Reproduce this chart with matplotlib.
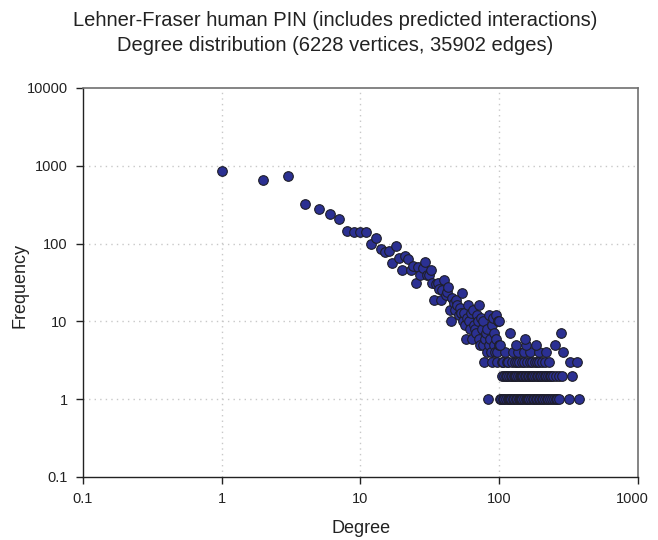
import matplotlib
matplotlib.use("Agg")
import matplotlib.pyplot as plt
import matplotlib.transforms as mtransforms
from matplotlib.ticker import FixedLocator, FixedFormatter, NullLocator

plt.rcParams['font.family'] = ['Liberation Sans', 'DejaVu Sans']

# degree -> number of vertices with that degree
low_degree = list(range(1, 101))
low_freq = [850, 655, 730, 325, 280, 240, 205, 147, 141, 140,
            140, 100, 118, 85, 79, 81, 56, 92, 65, 46,
            69, 63, 46, 52, 31, 50, 39, 48, 58, 40,
            39, 46, 31, 19, 30, 31, 26, 19, 25, 34,
            22, 24, 28, 14, 10, 20, 17, 14, 19, 16,
            12, 15, 13, 23, 10, 13, 9, 6, 11, 16,
            10, 8, 13, 6, 14, 9, 8, 7, 12, 10,
            16, 6, 5, 11, 8, 10, 5, 3, 6, 7,
            8, 4, 1, 5, 12, 6, 4, 9, 3, 11,
            5, 7, 4, 6, 12, 3, 4, 10, 5, 10]

# sparse tail: degrees above 100 grouped by their (small) frequency
deg_f1 = [101, 103, 106, 109, 112, 115, 117, 119, 122, 125, 128, 131, 134, 138,
          141, 144, 147, 151, 155, 158, 162, 165, 170, 174, 178, 183, 188, 192,
          197, 203, 208, 214, 220, 226, 233, 240, 247, 255, 262, 270, 320, 378]
deg_f2 = [105, 108, 111, 114, 118, 121, 124, 127, 130, 133, 136, 140, 143, 146,
          149, 154, 157, 160, 164, 168, 172, 176, 181, 186, 190, 196, 201, 206,
          212, 218, 224, 231, 238, 245, 258, 268, 281, 336]
deg_f3 = [104, 107, 113, 116, 123, 129, 135, 139, 145, 152, 159, 166, 173, 180,
          187, 195, 204, 213, 227, 321, 361]
deg_f4 = [110, 126, 137, 150, 167, 194, 217, 289]
deg_f5 = [102, 132, 156, 185, 252]
deg_f6 = [153]
deg_f7 = [120, 277]

degree = list(low_degree)
freq = list(low_freq)
for f, degs in [(1, deg_f1), (2, deg_f2), (3, deg_f3), (4, deg_f4),
                (5, deg_f5), (6, deg_f6), (7, deg_f7)]:
    degree += degs
    freq += [f] * len(degs)

x_ticks = [0.1, 1, 10, 100, 1000]
x_labels = ['0.1', '1', '10', '100', '1000']
y_ticks = [0.1, 1, 10, 100, 1000, 10000]
y_labels = ['0.1', '1', '10', '100', '1000', '10000']

fig = plt.figure(figsize=(6.58, 5.40), dpi=100)
ax = fig.add_axes([0.1261, 0.1167, 0.8435, 0.7204])

ax.scatter(degree, freq, s=48, color='#2b3092', edgecolors='#1e1e28',
           linewidths=0.8, zorder=3)

ax.set_xscale('log')
ax.set_yscale('log')
ax.set_xlim(0.1, 1000)
ax.set_ylim(0.1, 10000)

ax.xaxis.set_major_locator(FixedLocator(x_ticks))
ax.xaxis.set_major_formatter(FixedFormatter(x_labels))
ax.yaxis.set_major_locator(FixedLocator(y_ticks))
ax.yaxis.set_major_formatter(FixedFormatter(y_labels))
ax.xaxis.set_minor_locator(NullLocator())
ax.yaxis.set_minor_locator(NullLocator())

ax.tick_params(axis='both', which='major', direction='out', length=5, width=1,
               labelsize=10.5, colors='#222222', pad=6)
ax.tick_params(top=False, right=False)

# pull the last x label in so it stays inside the figure
last = ax.get_xticklabels()[-1]
last.set_transform(last.get_transform() +
                   mtransforms.ScaledTranslation(-6 / 100, 0, fig.dpi_scale_trans))

# dotted grid only at the inner decades
for v in x_ticks[1:-1]:
    ax.axvline(v, color='#c8c8c8', linestyle=(0, (1, 3)), linewidth=1, zorder=1)
for v in y_ticks[1:-1]:
    ax.axhline(v, color='#c8c8c8', linestyle=(0, (1, 3)), linewidth=1, zorder=1)

for side in ['left', 'bottom']:
    ax.spines[side].set_color('#222222')
    ax.spines[side].set_linewidth(1.0)
for side in ['top', 'right']:
    ax.spines[side].set_color('#707070')
    ax.spines[side].set_linewidth(1.2)

fig.text(0.548, 0.022, 'Degree', ha='center', va='center', fontsize=13, color='#222222')
fig.text(0.031, 0.472, 'Frequency', ha='center', va='center', rotation=90,
         fontsize=13, color='#222222')

fig.text(0.51, 0.962, 'Lehner-Fraser human PIN (includes predicted interactions)',
         ha='center', va='center', fontsize=14.5, color='#222222')
fig.text(0.51, 0.916, 'Degree distribution (6228 vertices, 35902 edges)',
         ha='center', va='center', fontsize=14.5, color='#222222')

fig.savefig('out.png', dpi=100)
